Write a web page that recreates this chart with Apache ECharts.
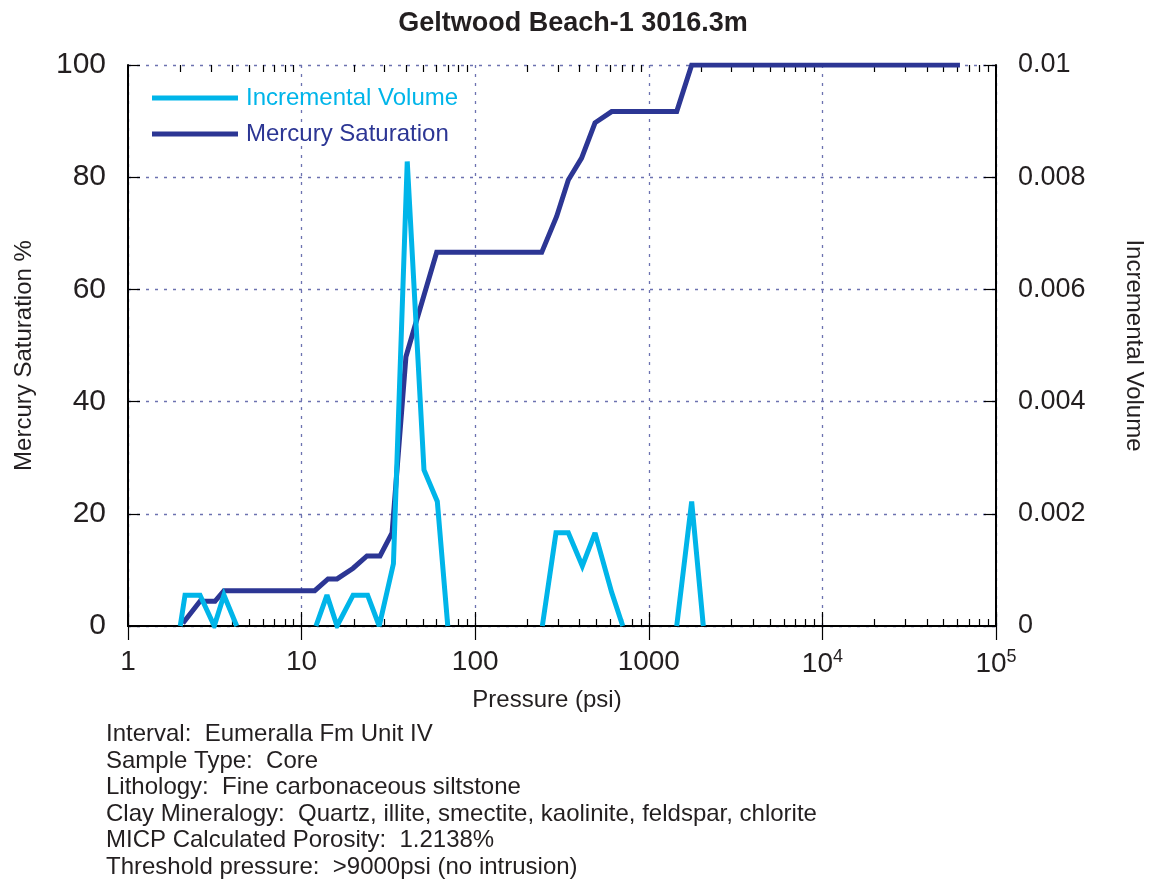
<!DOCTYPE html>
<html style="height: 100%">
<head>
	<meta charset="UTF-8">
	<title>Geltwood Beach-1 3016.3m</title>
	<script src="https://cdn.jsdelivr.net/npm/echarts@6/dist/echarts.min.js"></script>
</head>
<body style="height: 100%; margin: 0; background: #fff">
	<div id="container" style="width: 1152px; height: 884px;"></div>
	<script type="text/javascript">
		// mercury saturation curve (psi, %)
		var satPressure = [2.07, 2.6, 3.17, 3.57, 11.9, 14.2, 16.0, 19.8, 23.8, 28.3, 33.2, 39.9, 44.0, 60.0,
			241.6, 294.5, 343.8, 410, 490, 611, 1448, 1766, 62000];
		var satValues = [0.5, 4.4, 4.4, 6.3, 6.3, 8.4, 8.4, 10.3, 12.5, 12.5, 16.6, 48.0, 52.5, 66.6,
			66.6, 73.0, 79.5, 83.4, 89.7, 91.7, 91.7, 100, 100];

		// incremental volume (psi, value) - null marks a gap in the line
		var incPressure = [2.0, 2.13, 2.6, 3.14, 3.57, 4.23, null,
			12.1, 14.0, 16.0, 19.8, 24.0, 28.0, 33.8, 40.6, 50.7, 60.5, 69.5, null,
			243.6, 292, 343.8, 414, 490, 611, 708, null,
			1448, 1766, 2061];
		var incValues = [0, 0.00055, 0.00055, 0, 0.00055, 0, null,
			0, 0.00055, 0, 0.00055, 0.00055, 0, 0.00111, 0.00828, 0.00278, 0.00222, 0, null,
			0, 0.00166, 0.00166, 0.00107, 0.00166, 0.0006, 0, null,
			0, 0.00222, 0];

		var xMajor = [1, 10, 100, 1000, 10000, 100000];
		var leftTicks = [0, 20, 40, 60, 80, 100];
		var rightTicks = [0, 0.002, 0.004, 0.006, 0.008, 0.01];

		var notes = [
			'Interval:  Eumeralla Fm Unit IV',
			'Sample Type:  Core',
			'Lithology:  Fine carbonaceous siltstone',
			'Clay Mineralogy:  Quartz, illite, smectite, kaolinite, feldspar, chlorite',
			'MICP Calculated Porosity:  1.2138%',
			'Threshold pressure:  >9000psi (no intrusion)'
		];

		var cLight = '#00b5e9';
		var cDark = '#2c3694';
		var ink = '#231f20';
		var font = '"Liberation Sans", Arial, sans-serif';

		// minor ticks of the log axis: 2..9 in each decade
		var xMinor = [];
		for (var d = 0; d < xMajor.length - 1; d++) {
			for (var k = 2; k <= 9; k++) xMinor.push(xMajor[d] * k);
		}

		var satData = satPressure.map(function (p, i) { return [p, satValues[i]]; });
		var incData = incPressure.map(function (p, i) {
			return p === null ? [NaN, NaN] : [p, incValues[i]];
		});

		var dom = document.getElementById('container');
		var myChart = echarts.init(dom, null, { renderer: 'canvas' });

		var gridLine = { show: true, lineStyle: { color: '#6c72b0', type: [3, 6], width: 1.3 } };
		var frame = { show: true, lineStyle: { color: '#000', width: 2 } };
		var tickStyle = { color: '#000', width: 1.2 };

		function logAxis(pos, ticks, len, extra) {
			var ax = {
				type: 'log', logBase: 10, min: 1, max: 100000,
				position: pos,
				axisLine: { show: false },
				axisTick: { show: true, inside: true, length: len, customValues: ticks, lineStyle: tickStyle },
				axisLabel: { show: false },
				splitLine: { show: false },
				minorTick: { show: false }
			};
			for (var key in extra) ax[key] = extra[key];
			return ax;
		}

		var option = {
			animation: false,
			backgroundColor: '#fff',
			textStyle: { fontFamily: font },
			title: {
				text: 'Geltwood Beach-1 3016.3m',
				left: 568, top: 5, textAlign: 'center',
				textStyle: { fontFamily: font, fontSize: 27, fontWeight: 'bold', color: ink }
			},
			legend: {
				orient: 'vertical',
				left: 152, top: 86, padding: 0,
				icon: 'rect',
				itemWidth: 86, itemHeight: 5, itemGap: 12,
				textStyle: { fontFamily: font, fontSize: 24, lineHeight: 24, padding: [0, 0, 0, 3] },
				data: [
					{ name: 'Incremental Volume', textStyle: { color: cLight } },
					{ name: 'Mercury Saturation', textStyle: { color: cDark } }
				]
			},
			grid: { left: 128, right: 156, top: 65, bottom: 258, containLabel: false, outerBoundsMode: 'none' },
			xAxis: [
				logAxis('bottom', xMajor, 14, {
					name: 'Pressure (psi)', nameLocation: 'middle', nameGap: 62,
					nameTextStyle: { fontFamily: font, fontSize: 24, color: ink, padding: [0, 30, 0, 0] },
					axisLine: frame,
					axisLabel: {
						show: true,
						color: ink, fontSize: 28, margin: 22,
						customValues: xMajor,
						formatter: function (v) {
							if (v >= 10000) return '10{sup|' + Math.round(Math.log10(v)) + '}';
							return String(Math.round(v));
						},
						rich: { sup: { fontSize: 18, verticalAlign: 'top', padding: [0, 0, 14, 0], color: ink } }
					},
					splitLine: gridLine
				}),
				logAxis('top', xMajor, 14, { axisLine: frame }),
				logAxis('bottom', xMinor, 7, {}),
				logAxis('top', xMinor, 7, {})
			],
			yAxis: [{
				type: 'value', min: 0, max: 100, interval: 20,
				position: 'left',
				name: 'Mercury Saturation %', nameLocation: 'middle', nameGap: 92, nameRotate: 90,
				nameTextStyle: { fontFamily: font, fontSize: 24, color: ink, padding: [0, 20, 0, 0] },
				axisLine: frame,
				axisTick: { show: true, inside: true, length: 12, lineStyle: tickStyle },
				axisLabel: { color: ink, fontSize: 30, margin: 22, customValues: leftTicks },
				splitLine: gridLine
			}, {
				type: 'value', min: 0, max: 0.01, interval: 0.002,
				position: 'right',
				name: 'Incremental Volume', nameLocation: 'middle', nameGap: 126, nameRotate: -90,
				nameTextStyle: { fontFamily: font, fontSize: 24, color: ink },
				axisLine: frame,
				axisTick: { show: true, inside: true, length: 12, lineStyle: tickStyle },
				axisLabel: {
					color: ink, fontSize: 27, margin: 22, customValues: rightTicks,
					formatter: function (v) { return v === 0 ? '0' : String(+v.toFixed(3)); }
				},
				splitLine: { show: false }
			}],
			series: [{
				name: 'Incremental Volume',
				type: 'line',
				xAxisIndex: 0, yAxisIndex: 1,
				data: incData,
				showSymbol: false, symbol: 'none',
				connectNulls: false,
				lineStyle: { color: cLight, width: 5, join: 'miter', miterLimit: 3 },
				itemStyle: { color: cLight },
				z: 3
			}, {
				name: 'Mercury Saturation',
				type: 'line',
				xAxisIndex: 0, yAxisIndex: 0,
				data: satData,
				showSymbol: false, symbol: 'none',
				lineStyle: { color: cDark, width: 5, join: 'miter', miterLimit: 3 },
				itemStyle: { color: cDark },
				z: 2
			}],
			graphic: [{
				type: 'text',
				left: 106, top: 721,
				style: {
					text: notes.join('\n'),
					fontFamily: font, fontSize: 24, lineHeight: 26.6,
					fill: ink
				}
			}]
		};

		if (option && typeof option === 'object') {
			myChart.setOption(option, true);
		}
	</script>
</body>
</html>
